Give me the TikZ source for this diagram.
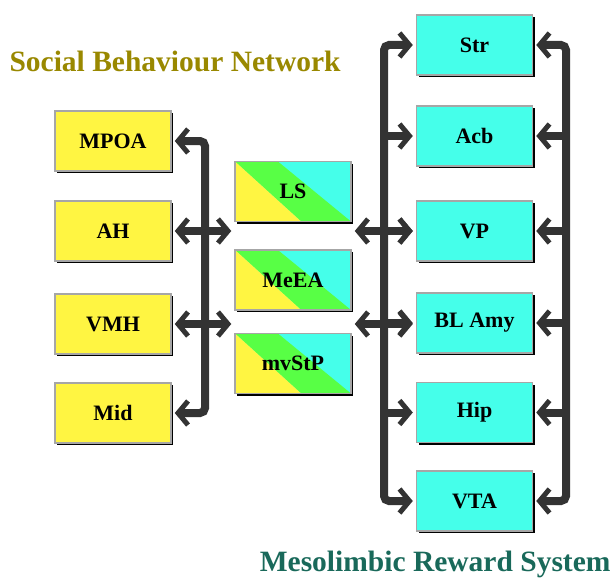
\documentclass[tikz,border=0pt]{standalone}
\usepackage{fontspec}
\setmainfont{Liberation Serif}
\usetikzlibrary{arrows.meta,calc,shadows}
\definecolor{SbnOlive}{HTML}{998800}
\definecolor{MrsTeal}{HTML}{19695A}
\definecolor{BoxYellow}{HTML}{FFF542}
\definecolor{BoxCyan}{HTML}{45FFEA}
\definecolor{BoxGreen}{HTML}{58FF45}
\definecolor{BarGrey}{HTML}{333333}

\begin{document}
\begin{tikzpicture}[x=1pt,y=-1pt,
    every node/.style={font=\fontsize{22}{24}\selectfont\bfseries,align=center},
    area/.style={draw=gray!70,line width=1.5pt,minimum width=116pt,minimum height=60pt,
      drop shadow={shadow xshift=2pt,shadow yshift=-2pt,fill=black,opacity=1}},
    social/.style={area,fill=BoxYellow},
    reward/.style={area,fill=BoxCyan},
    mixed/.style={area,fill=BoxCyan,path picture={
      \coordinate (pnw) at (path picture bounding box.north west);
      \coordinate (pne) at (path picture bounding box.north east);
      \coordinate (pse) at (path picture bounding box.south east);
      \coordinate (psw) at (path picture bounding box.south west);
      \fill[BoxGreen] (pnw) -- ($(pnw)!0.37!(pne)$) -- (pse) -- ($(psw)!0.57!(pse)$) -- cycle;
      \fill[BoxYellow] (pnw) -- ($(psw)!0.57!(pse)$) -- (psw) -- cycle;}},
    title/.style={font=\fontsize{29.5}{32}\selectfont\bfseries},
    bar/.style={BarGrey,line width=8pt,rounded corners=5pt,shorten >=3pt,shorten <=3pt,
      >={Straight Barb[length=10pt,width=24pt,line width=5pt]}}]
  \useasboundingbox (0,0) rectangle (616,578);

  \node[title,text=SbnOlive,anchor=base west] (sbn) at (6,72) {Social Behaviour Network};
  \node[title,text=MrsTeal,anchor=base east] (mrs) at (614,571) {Mesolimbic Reward System};

  % social behaviour network
  \node[social] (MPOA) at (113,141) {MPOA};
  \node[social] (AH) at (113,231) {AH};
  \node[social] (VMH) at (113,324) {VMH};
  \node[social] (Mid) at (113,413) {Mid};

  % shared areas
  \node[mixed] (LS) at (293,191.5) {LS};
  \node[mixed] (MeEA) at (293,280) {MeEA};
  \node[mixed] (mvStP) at (293,363.5) {mvStP};

  % mesolimbic reward system
  \node[reward] (Str) at (474.5,45) {Str};
  \node[reward] (Acb) at (474.5,136) {Acb};
  \node[reward] (VP) at (474.5,231) {VP};
  \node[reward] (BLAmy) at (474.5,323) {BL Amy};
  \node[reward] (Hip) at (474.5,412.5) {Hip};
  \node[reward] (VTA) at (474.5,501) {VTA};

  \coordinate (lbar) at (205,0);
  \coordinate (rbar) at (384,0);
  \coordinate (rrbar) at (566,0);

  \draw[bar,<->] (MPOA.east) -| (lbar |- Mid.east) -- (Mid.east);
  \foreach \n in {AH,VMH}{\draw[bar,<->] (\n.east) -- (\n.east -| LS.west);}
  \foreach \n/\m in {AH/VP,VMH/BLAmy}{\draw[bar,<->] (\n.east -| LS.east) -- (\m.west |- \n.east);}

  \draw[bar,<->] (Str.west) -| (rbar |- VTA.west) -- (VTA.west);
  \foreach \n in {Acb,VP,BLAmy,Hip}{\draw[bar,->] (rbar |- \n.west) -- (\n.west);}
  \draw[bar,<->] (Str.east) -| (rrbar |- VTA.east) -- (VTA.east);
  \foreach \n in {Acb,VP,BLAmy,Hip}{\draw[bar,->] (rrbar |- \n.east) -- (\n.east);}
\end{tikzpicture}
\end{document}
